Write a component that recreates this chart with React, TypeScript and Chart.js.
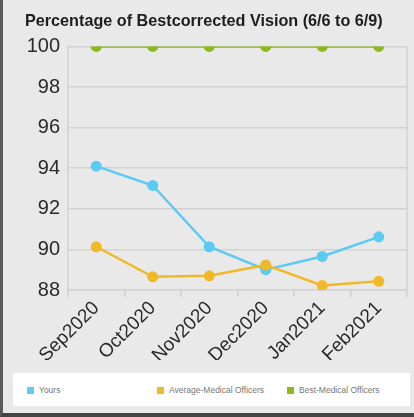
import React, { useEffect, useRef } from "react";
import { Chart, registerables } from "chart.js";

Chart.register(...registerables);

const TITLE = "Percentage of Bestcorrected Vision (6/6 to 6/9)";
const MONTHS = ["Sep2020", "Oct2020", "Nov2020", "Dec2020", "Jan2021", "Feb2021"];
const YOURS = [94.1, 93.15, 90.13, 89.0, 89.65, 90.62];
const AVERAGE = [90.13, 88.65, 88.7, 89.23, 88.22, 88.43];
const BEST = [100, 100, 100, 100, 100, 100];
const SERIES_NAMES = ["Yours", "Average-Medical Officers", "Best-Medical Officers"];
const SERIES_COLORS = ["#5ccbf3", "#f1b928", "#8cba1d"];
const Y_MIN = 88;
const Y_MAX = 100;
const Y_STEP = 2;

const FONT = "'Liberation Sans', Arial, sans-serif";

const rightBorder = {
  id: "rightBorder",
  afterDraw(chart: any) {
    const { ctx, chartArea } = chart;
    ctx.save();
    ctx.strokeStyle = "#d2d2d2";
    ctx.lineWidth = 1.5;
    ctx.beginPath();
    ctx.moveTo(chartArea.right, chartArea.top);
    ctx.lineTo(chartArea.right, chartArea.bottom);
    ctx.stroke();
    ctx.restore();
  },
};

export default function App() {
  const ref = useRef<HTMLCanvasElement | null>(null);

  useEffect(() => {
    document.body.style.margin = "0";
    const values = [YOURS, AVERAGE, BEST];
    const chart = new Chart(ref.current as HTMLCanvasElement, {
      type: "line",
      data: {
        labels: MONTHS,
        datasets: values.map((d, i) => ({
          label: SERIES_NAMES[i],
          data: d,
          borderColor: SERIES_COLORS[i],
          backgroundColor: SERIES_COLORS[i],
          pointBackgroundColor: SERIES_COLORS[i],
          pointBorderWidth: 0,
          pointRadius: 5.5,
          borderWidth: 2.5,
          tension: 0,
          fill: false,
          order: i === 1 ? 0 : i === 0 ? 1 : 2,
        })),
      },
      options: {
        animation: false,
        responsive: false,
        maintainAspectRatio: false,
        layout: { padding: { left: 25, right: 7, top: 0, bottom: 0 } },
        plugins: {
          legend: { display: false },
          tooltip: { enabled: false },
          title: {
            display: true,
            text: TITLE,
            align: "start",
            color: "#1e1e1e",
            font: { family: FONT, size: 16.2, weight: "bold" },
            padding: { top: 12, bottom: 15 },
          },
        },
        scales: {
          x: {
            offset: true,
            grid: {
              offset: true,
              drawOnChartArea: false,
              drawTicks: true,
              tickLength: 7,
              color: "#cfcfcf",
              lineWidth: 1.5,
            },
            border: { display: true, color: "#d2d2d2", width: 1.5 },
            ticks: {
              color: "#2a2a2a",
              font: { family: FONT, size: 19 },
              maxRotation: 45,
              minRotation: 45,
              padding: 0,
            },
            afterFit(scale: any) {
              scale.height = 70;
            },
          },
          y: {
            min: Y_MIN,
            max: Y_MAX,
            grid: { color: "#d2d2d2", lineWidth: 1.5, drawTicks: false },
            border: { display: true, color: "#d2d2d2", width: 1.5 },
            ticks: {
              stepSize: Y_STEP,
              color: "#2a2a2a",
              font: { family: FONT, size: 20 },
              padding: 8,
            },
            afterFit(scale: any) {
              scale.width = 43;
            },
          },
        },
      },
      plugins: [rightBorder],
    } as any);
    return () => chart.destroy();
  }, []);

  return (
    <div
      style={{
        position: "fixed",
        left: 0,
        top: 0,
        width: 414,
        height: 417,
        background: "#e9e9e9",
        boxSizing: "border-box",
        borderLeft: "3px solid #5a5a5a",
        borderBottom: "4px solid #444",
        overflow: "hidden",
      }}
    >
      <canvas
        ref={ref}
        width={414}
        height={360}
        style={{ position: "absolute", left: -3, top: 0, width: 414, height: 360 }}
      />
      <div
        style={{
          position: "absolute",
          left: 10,
          top: 373,
          width: 397,
          height: 33,
          background: "#ffffff",
          fontFamily: FONT,
          fontSize: 8.5,
          color: "#777",
        }}
      >
        {SERIES_NAMES.map((name, i) => (
          <div
            key={name}
            style={{
              position: "absolute",
              left: [14, 144, 274][i],
              top: 12,
              display: "flex",
              alignItems: "center",
              whiteSpace: "nowrap",
            }}
          >
            <span
              style={{
                display: "inline-block",
                width: 7,
                height: 7,
                background: SERIES_COLORS[i],
                marginRight: 5,
              }}
            />
            <span>{name}</span>
          </div>
        ))}
      </div>
    </div>
  );
}
